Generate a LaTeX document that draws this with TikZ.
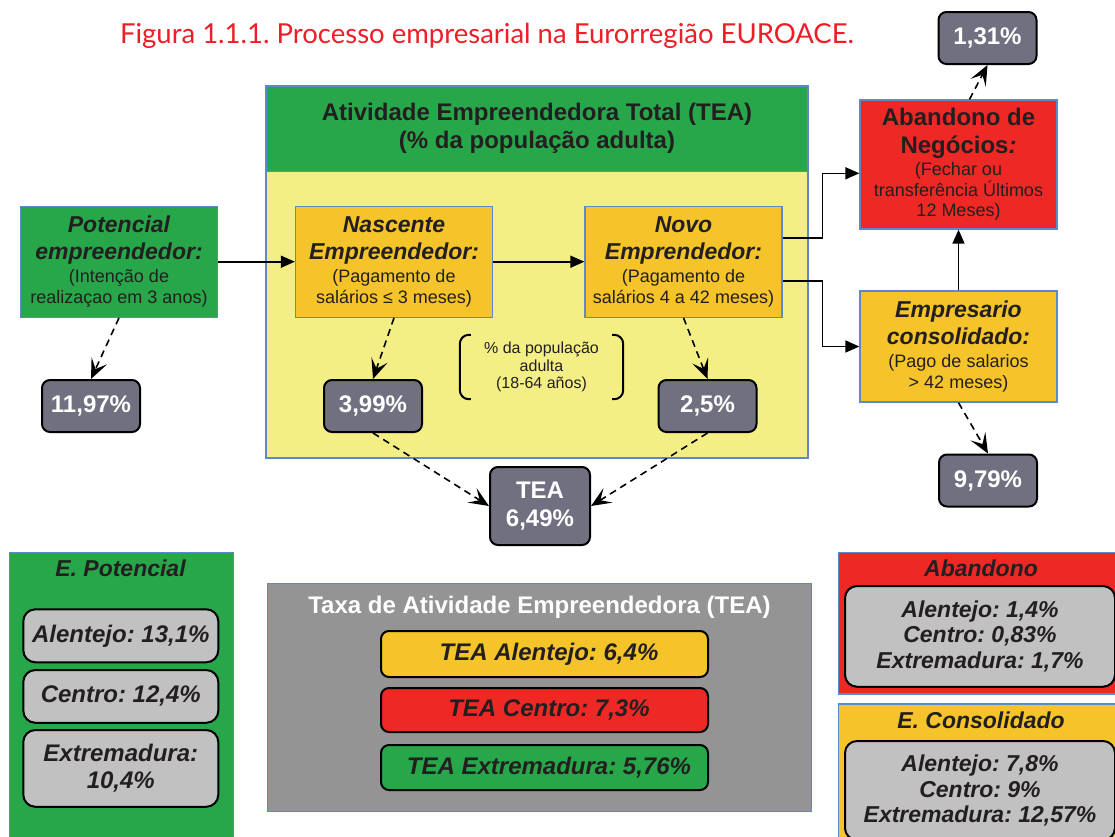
\documentclass[tikz,border=0pt]{standalone}
\usepackage{fontspec}
\setmainfont{Liberation Sans}
\newfontfamily\gillfont{Lato}
\usetikzlibrary{arrows.meta}
\definecolor{gemgreen}{RGB}{40,166,74}
\definecolor{gemorange}{RGB}{245,196,43}
\definecolor{gempale}{RGB}{244,239,133}
\definecolor{gemred}{RGB}{237,40,37}
\definecolor{gempct}{RGB}{113,112,128}
\definecolor{gemlight}{RGB}{193,193,193}
\definecolor{gemgray}{RGB}{148,148,148}
\definecolor{gemblue}{RGB}{92,137,199}
\definecolor{gemtext}{RGB}{35,31,32}
\definecolor{gemtitle}{RGB}{237,30,40}
\newcommand{\fhead}{\fontsize{23}{27}\selectfont\bfseries\itshape\spaceskip=\fontdimen2\font\relax}
\newcommand{\fbig}{\fontsize{24}{28}\selectfont\bfseries\spaceskip=\fontdimen2\font\relax}
\newcommand{\fbody}{\fontsize{18}{20.5}\selectfont\spaceskip=\fontdimen2\font\relax}

\begin{document}
\frenchspacing
\begin{tikzpicture}[x=1pt,y=-1pt
,pstep/.style={draw=gemblue,line width=1.3pt,text=gemtext,align=center,text width=192pt,inner sep=0pt,minimum width=197pt,minimum height=111pt}
,ppct/.style={draw=black,line width=2pt,fill=gempct,rounded corners=8pt,text=white,font=\fontsize{24}{28}\selectfont\bfseries,align=center,inner sep=0pt,minimum width=98pt,minimum height=52pt}
,ppanel/.style={draw=gemblue,line width=1.3pt,inner sep=0pt,anchor=north west}
,ptitle/.style={anchor=base,text=gemtext,font=\fontsize{23}{27}\selectfont\bfseries\itshape}
,pitem/.style={draw=black,line width=2pt,fill=gemlight,rounded corners=12pt,text=gemtext,font=\fontsize{24}{27}\selectfont\bfseries\itshape,align=center,inner sep=0pt}
,pbar/.style={draw=black,line width=2pt,rounded corners=8pt,text=gemtext,font=\fontsize{24}{27}\selectfont\bfseries\itshape,inner sep=0pt,minimum width=327pt}
,parrow/.style={-{Triangle[length=14pt,width=12pt]},line width=1.6pt}
,pdashed/.style={-{Stealth[length=20pt,width=17pt,inset=9pt]},line width=1.6pt,dash pattern=on 7pt off 5pt}
,pbracket/.style={line width=2pt,rounded corners=9pt}
]
\useasboundingbox (0,0) rectangle (1115,836);
\clip (0,0) rectangle (1115,836);
\fill[white] (0,0) rectangle (1115,836);
\node[anchor=base,text=gemtitle,font=\gillfont\fontsize{27.5}{31}\selectfont] (titulo) at (487,43) {Figura 1.1.1. Processo empresarial na Eurorregião EUROACE.};
\node[draw=gemblue,line width=1.3pt,fill=gempale,inner sep=0pt,minimum width=542pt,minimum height=286.5pt] (teabody) at (537,314.75) {};
\node[draw=gemblue,line width=1.3pt,fill=gemgreen,text=gemtext,align=center,inner sep=0pt,minimum width=542pt,minimum height=85.5pt,font=\fontsize{24}{28}\selectfont\bfseries] (teahead) at (537,128.75) {Atividade Empreendedora Total (TEA)\\(\% da população adulta)};
\node[pstep,fill=gemgreen] (potencial) at (119,261.7) {{\fhead Potencial\\empreendedor:\par}\vspace{2.5pt}{\fbody (Intenção de\\realizaçao em 3 anos)\par}};
\node[pstep,fill=gemorange] (nascente) at (394,261.7) {{\fhead Nascente\\Empreendedor:\par}\vspace{2.5pt}{\fbody (Pagamento de\\salários ≤ 3 meses)\par}};
\node[pstep,fill=gemorange] (novo) at (683.5,261.7) {{\fhead Novo\\Emprendedor:\par}\vspace{2.5pt}{\fbody (Pagamento de\\salários 4 a 42 meses)\par}};
\node[pstep,fill=gemred,minimum height=129pt] (abandono) at (958.5,164.5) {{\fbig Abandono de\\Negócios\textit{:}\par}\vspace{1.5pt}{\fbody (Fechar ou\\transferência Últimos\\12 Meses)\par}};
\node[pstep,fill=gemorange] (empresario) at (958.5,346.5) {{\fhead Empresario\\consolidado:\par}\vspace{2.5pt}{\fbody (Pago de salarios\\> 42 meses)\par}};
\node[ppct] (p1197) at (91,406) {11,97\%};
\node[ppct] (p399) at (373,406) {3,99\%};
\node[ppct] (p25) at (707.5,406) {2,5\%};
\node[ppct] (p131) at (987.5,38) {1,31\%};
\node[ppct] (p979) at (988,480.5) {9,79\%};
\node[ppct,minimum width=100pt,minimum height=78pt] (tea) at (540,506) {TEA\\6,49\%};
\node[text=gemtext,align=center,inner sep=0pt,minimum width=163pt,minimum height=64pt,font=\fontsize{16}{17.5}\selectfont] (nota) at (541.5,367) {\% da população\\adulta\\(18-64 años)};
\draw[pbracket] ([xshift=11pt]nota.north west) -- (nota.north west) -- (nota.south west) -- ([xshift=11pt]nota.south west);
\draw[pbracket] ([xshift=-11pt]nota.north east) -- (nota.north east) -- (nota.south east) -- ([xshift=-11pt]nota.south east);
\draw[parrow] (potencial) -- (nascente);
\draw[parrow] (nascente) -- (novo);
\draw[parrow] ([yshift=24pt]novo.east) -- ++(40,0) |- ([yshift=-8.8pt]abandono.west);
\draw[parrow] ([yshift=-19.3pt]novo.east) -- ++(40,0) |- (empresario.west);
\draw[parrow] (empresario) -- (abandono);
\draw[pdashed] (potencial.south) -- (p1197.north);
\draw[pdashed] (nascente.south) -- (p399.north);
\draw[pdashed] (novo.south) -- (p25.north);
\draw[pdashed] (p399.south) -- (tea.west);
\draw[pdashed] (p25.south) -- (tea.east);
\draw[pdashed] ([xshift=11pt]abandono.north) -- (p131.south);
\draw[pdashed] (empresario.south) -- (p979.north);
\node[ppanel,fill=gemgreen,minimum width=224pt,minimum height=300pt] (panelpot) at (8.5,551.5) {};
\node[ptitle] (titpot) at (120.5,576.7) {E. Potencial};
\node[pitem,minimum width=195pt,minimum height=53pt] (potalen) at (120.8,635.8) {Alentejo: 13,1\%};
\node[pitem,minimum width=195pt,minimum height=52.7pt] (potcent) at (120.8,696.4) {Centro: 12,4\%};
\node[pitem,minimum width=195pt,minimum height=76.7pt] (potextr) at (120.8,768.4) {Extremadura:\\10,4\%};
\node[ppanel,fill=gemgray,minimum width=544pt,minimum height=228pt] (paneltea) at (267,582.7) {};
\node[anchor=base,text=white,font=\fontsize{24}{28}\selectfont\bfseries] (tittea) at (539.5,613.3) {Taxa de Atividade Empreendedora (TEA)};
\node[pbar,fill=gemorange,minimum height=46pt] (teaalen) at (544.5,654) {\hspace*{9pt}TEA Alentejo: 6,4\%};
\node[pbar,fill=gemred,minimum height=44pt] (teacent) at (544.5,710) {\hspace*{9pt}TEA Centro: 7,3\%};
\node[pbar,fill=gemgreen,minimum height=45pt] (teaextr) at (544.5,767.5) {\hspace*{9pt}TEA Extremadura: 5,76\%};
\node[ppanel,fill=gemred,minimum width=300pt,minimum height=141.7pt] (panelaband) at (837.5,551.7) {};
\node[ptitle] (titaband) at (981,576.7) {Abandono};
\node[pitem,minimum width=270pt,minimum height=100.7pt,font=\fontsize{23}{25.5}\selectfont\bfseries\itshape] (abanditems) at (980,636.4) {Alentejo: 1,4\%\\Centro: 0,83\%\\Extremadura: 1,7\%};
\node[ppanel,fill=gemorange,minimum width=300pt,minimum height=150pt] (panelcons) at (837.5,703.3) {};
\node[ptitle] (titcons) at (981,728) {E. Consolidado};
\node[pitem,minimum width=270pt,minimum height=99pt,font=\fontsize{23}{25.5}\selectfont\bfseries\itshape] (consitems) at (980,790.5) {Alentejo: 7,8\%\\Centro: 9\%\\Extremadura: 12,57\%};
\end{tikzpicture}
\end{document}
